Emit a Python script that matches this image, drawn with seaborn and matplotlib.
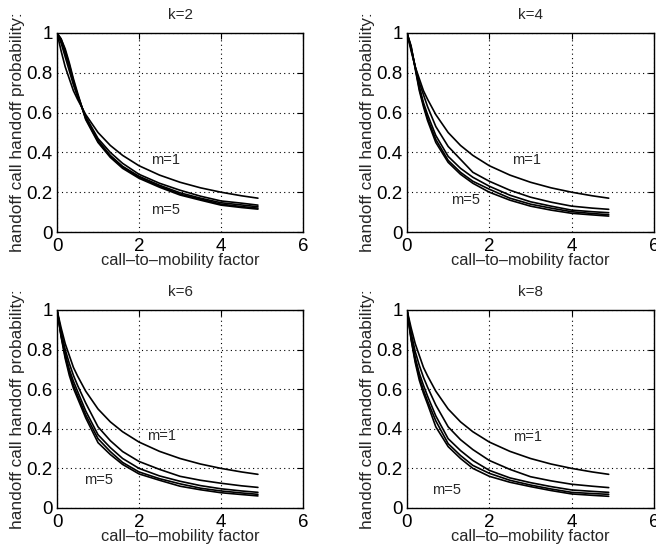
import numpy as np
import pandas as pd
import matplotlib
matplotlib.use("Agg")
import matplotlib.pyplot as plt
import seaborn as sns

# call-to-mobility factor sample points
factor = [0, 0.1, 0.2, 0.3, 0.4, 0.5, 0.7, 1.0, 1.3, 1.6, 2.0, 2.5, 3.0, 3.5, 4.0, 4.5, 4.9]

# m=1 is the same in every panel
m1 = [1, 0.91, 0.83, 0.77, 0.71, 0.667, 0.59, 0.50, 0.435, 0.385, 0.333, 0.286, 0.25, 0.222, 0.20, 0.182, 0.17]

# k=2
k2_m2 = [1, 0.95, 0.88, 0.81, 0.74, 0.68, 0.58, 0.47, 0.40, 0.345, 0.29, 0.245, 0.21, 0.18, 0.156, 0.145, 0.135]
k2_m3 = [1, 0.96, 0.90, 0.83, 0.75, 0.69, 0.575, 0.46, 0.385, 0.33, 0.28, 0.235, 0.197, 0.17, 0.147, 0.136, 0.127]
k2_m4 = [1, 0.97, 0.91, 0.84, 0.76, 0.69, 0.57, 0.455, 0.38, 0.325, 0.275, 0.23, 0.19, 0.165, 0.14, 0.128, 0.12]
k2_m5 = [1, 0.97, 0.92, 0.85, 0.77, 0.70, 0.565, 0.45, 0.375, 0.32, 0.27, 0.225, 0.186, 0.16, 0.135, 0.123, 0.115]

# k=4
k4_m2 = [1, 0.92, 0.83, 0.75, 0.69, 0.63, 0.53, 0.43, 0.365, 0.30, 0.255, 0.21, 0.175, 0.15, 0.13, 0.12, 0.114]
k4_m3 = [1, 0.925, 0.83, 0.73, 0.65, 0.59, 0.485, 0.38, 0.32, 0.275, 0.23, 0.185, 0.152, 0.13, 0.11, 0.102, 0.097]
k4_m4 = [1, 0.93, 0.825, 0.72, 0.64, 0.57, 0.465, 0.36, 0.30, 0.255, 0.215, 0.17, 0.14, 0.12, 0.102, 0.093, 0.087]
k4_m5 = [1, 0.935, 0.82, 0.71, 0.63, 0.56, 0.45, 0.35, 0.29, 0.245, 0.20, 0.16, 0.13, 0.11, 0.094, 0.086, 0.08]

# k=6
k6_m2 = [1, 0.89, 0.80, 0.73, 0.67, 0.62, 0.53, 0.41, 0.34, 0.285, 0.235, 0.195, 0.16, 0.14, 0.125, 0.112, 0.104]
k6_m3 = [1, 0.875, 0.78, 0.70, 0.64, 0.59, 0.49, 0.37, 0.305, 0.25, 0.20, 0.162, 0.135, 0.113, 0.097, 0.086, 0.079]
k6_m4 = [1, 0.87, 0.765, 0.685, 0.62, 0.57, 0.47, 0.35, 0.285, 0.23, 0.182, 0.148, 0.122, 0.10, 0.086, 0.076, 0.069]
k6_m5 = [1, 0.865, 0.755, 0.67, 0.605, 0.555, 0.455, 0.33, 0.27, 0.22, 0.172, 0.14, 0.11, 0.092, 0.077, 0.068, 0.061]

# k=8
k8_m2 = [1, 0.885, 0.79, 0.72, 0.66, 0.61, 0.52, 0.41, 0.345, 0.295, 0.24, 0.195, 0.158, 0.137, 0.12, 0.11, 0.103]
k8_m3 = [1, 0.865, 0.76, 0.68, 0.62, 0.565, 0.465, 0.35, 0.29, 0.24, 0.19, 0.152, 0.128, 0.108, 0.091, 0.084, 0.079]
k8_m4 = [1, 0.855, 0.745, 0.66, 0.595, 0.54, 0.44, 0.325, 0.265, 0.215, 0.175, 0.14, 0.116, 0.096, 0.079, 0.073, 0.069]
k8_m5 = [1, 0.85, 0.735, 0.645, 0.58, 0.525, 0.41, 0.31, 0.25, 0.20, 0.16, 0.13, 0.108, 0.088, 0.071, 0.064, 0.059]

k_values = [2, 4, 6, 8]
curves = {
    2: [m1, k2_m2, k2_m3, k2_m4, k2_m5],
    4: [m1, k4_m2, k4_m3, k4_m4, k4_m5],
    6: [m1, k6_m2, k6_m3, k6_m4, k6_m5],
    8: [m1, k8_m2, k8_m3, k8_m4, k8_m5],
}
# where the m=1 / m=5 notes sit in each panel (data coords)
label_m1 = {2: (2.65, 0.36), 4: (2.9, 0.36), 6: (2.55, 0.365), 8: (2.94, 0.36)}
label_m5 = {2: (2.65, 0.11), 4: (1.42, 0.16), 6: (1.02, 0.14), 8: (0.97, 0.09)}

sns.set_style("white")
plt.rcParams['font.family'] = ['Liberation Sans', 'DejaVu Sans']

fig = plt.figure(figsize=(6.56, 5.49), dpi=100)
positions = {
    2: [0.0869, 0.5774, 0.375, 0.3625],
    4: [0.6204, 0.5774, 0.3765, 0.3625],
    6: [0.0869, 0.0747, 0.375, 0.3607],
    8: [0.6204, 0.0747, 0.3765, 0.3607],
}

for k in k_values:
    ax = fig.add_axes(positions[k])
    rows = []
    for m, vals in enumerate(curves[k], start=1):
        for x, y in zip(factor, vals):
            rows.append({"factor": x, "prob": y, "m": m})
    df = pd.DataFrame(rows)
    sns.lineplot(data=df, x="factor", y="prob", units="m", estimator=None,
                 color="black", linewidth=1.2, ax=ax)

    ax.set_xlim(0, 6)
    ax.set_ylim(0, 1)
    ax.set_xticks([0, 2, 4, 6])
    ax.set_xticklabels(["0", "2", "4", "6"])
    ax.set_yticks([0, 0.2, 0.4, 0.6, 0.8, 1])
    ax.set_yticklabels(["0", "0.2", "0.4", "0.6", "0.8", "1"])
    ax.tick_params(direction="in", top=True, right=True, length=4, width=0.8,
                   labelsize=13.5, colors="black")
    ax.tick_params(axis="x", pad=4)
    ax.tick_params(axis="y", pad=3)
    ax.grid(True, linestyle=(0, (1, 3)), color="black", linewidth=0.8)
    for s in ax.spines.values():
        s.set_color("black")
        s.set_linewidth(1.0)

    ax.set_title(f"k={k}", fontsize=11, pad=10)
    ax.set_xlabel("call\u2013to\u2013mobility factor", fontsize=11.8, labelpad=-1)
    ax.set_ylabel("handoff call handoff probability:", fontsize=12.4, labelpad=1)

    ax.text(*label_m1[k], "m=1", fontsize=10.5, ha="center", va="center")
    ax.text(*label_m5[k], "m=5", fontsize=10.5, ha="center", va="center")

fig.savefig("out.png", dpi=100)
